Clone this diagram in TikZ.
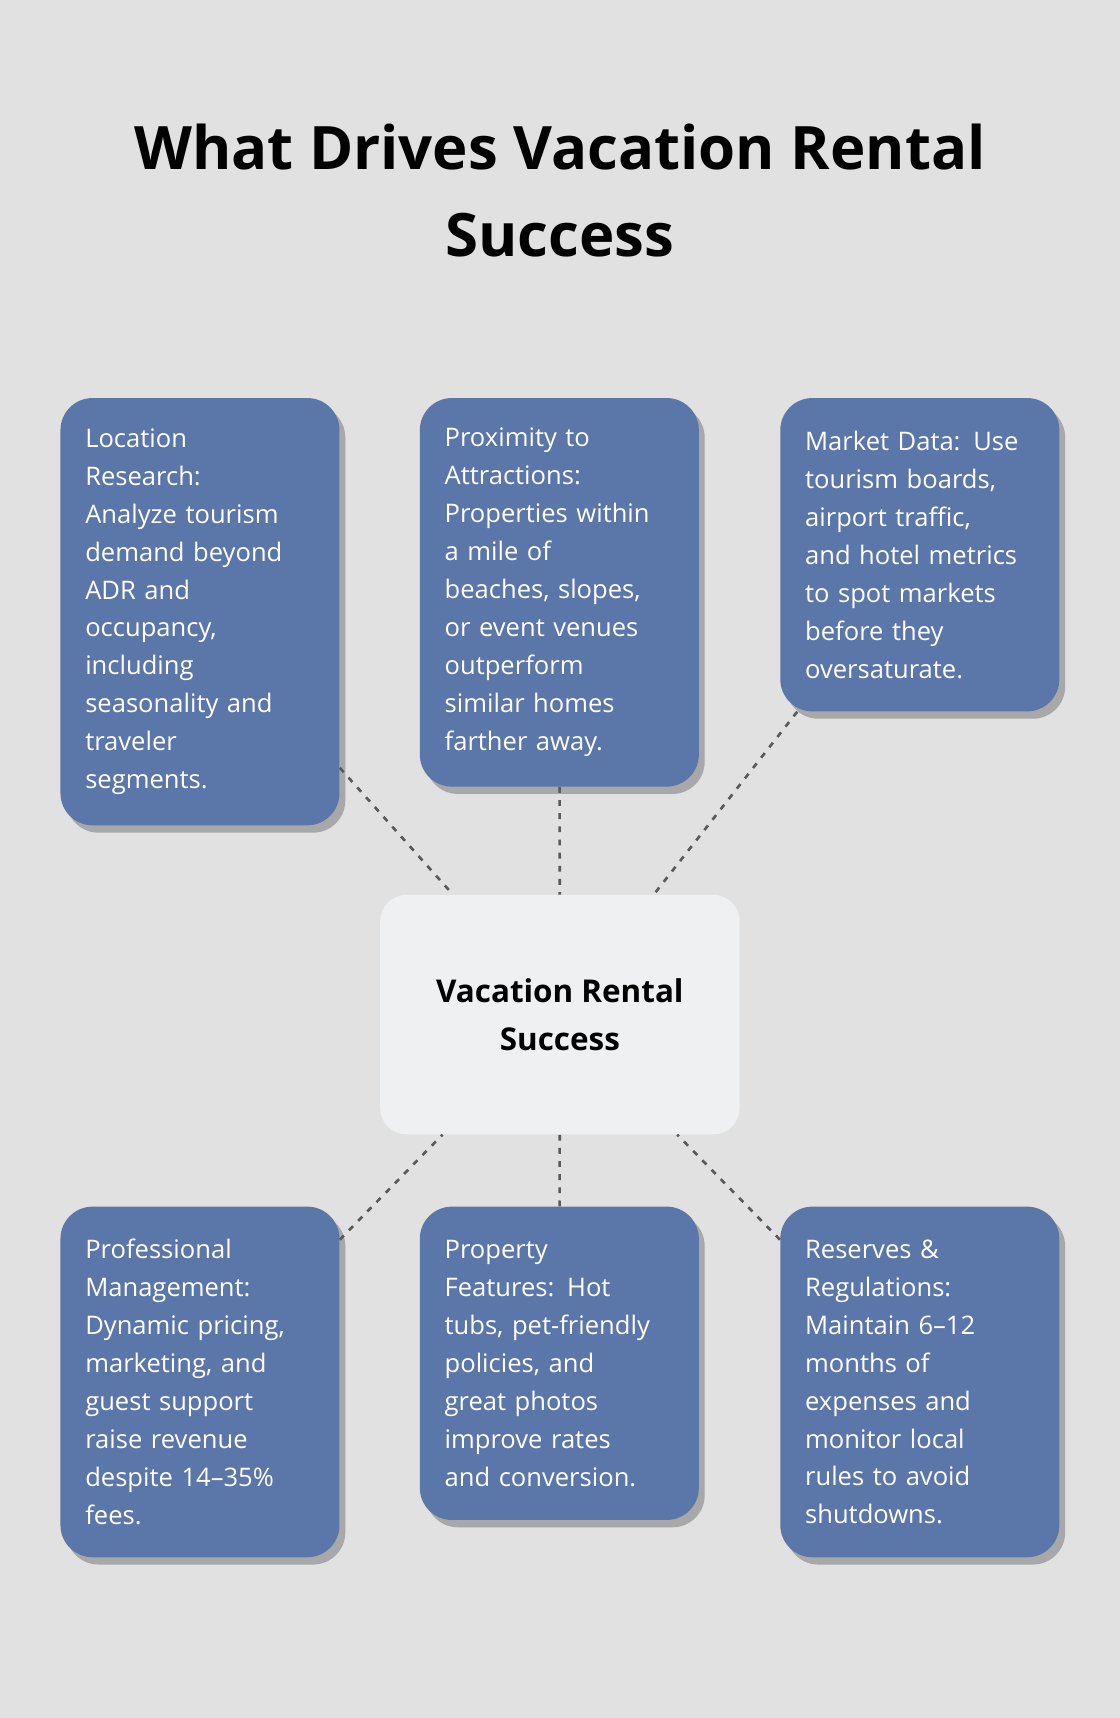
\documentclass[tikz,border=0pt]{standalone}
\usepackage{fontspec}
\setmainfont{Open Sans}
\usetikzlibrary{shadows}
\definecolor{bg}{HTML}{E0E1E0}
\definecolor{boxblue}{HTML}{5B76A8}
\definecolor{cbox}{HTML}{EFF0F2}
\tikzset{
 x=0.75pt,y=-0.75pt,
 card/.style={draw=none,fill=boxblue,rounded corners=22pt,text=white,align=left,
   text width=157pt,inner xsep=16.5pt,inner ysep=14pt,minimum width=191pt,anchor=north,
   font=\fontsize{17.5}{26}\selectfont,
   drop shadow={shadow xshift=4pt,shadow yshift=-5pt,opacity=0.25,fill=black}},
 hub/.style={draw=none,fill=cbox,rounded corners=18pt,align=center,minimum width=246pt,
   minimum height=164pt,font=\fontsize{21.5}{33}\selectfont\bfseries},
 link/.style={draw=black!65,dashed,line width=1.8pt,dash pattern=on 4pt off 5pt}
}
\begin{document}
\begin{tikzpicture}
\fill[bg] (0,0) rectangle (1022,1568);
\useasboundingbox (0,0) rectangle (1022,1568);
\node[font=\fontsize{41}{60}\selectfont\bfseries,align=center] (title) at (511,174) {What Drives Vacation Rental\\Success};
\node[hub] (c) at (511,926) {Vacation Rental\\Success};
\node[card,minimum height=292.5pt] (a) at (182.5,363) {Location\\Research:\\Analyze tourism\\demand beyond\\ADR and\\occupancy,\\including\\seasonality and\\traveler\\segments.};
\node[card,minimum height=266pt] (b) at (510.5,363) {Proximity to\\Attractions:\\Properties within\\a mile of\\beaches, slopes,\\or event venues\\outperform\\similar homes\\farther away.};
\node[card,minimum height=214.5pt] (d) at (839.5,363) {Market Data: Use\\tourism boards,\\airport traffic,\\and hotel metrics\\to spot markets\\before they\\oversaturate.};
\node[card,minimum height=240pt] (e) at (182.5,1101) {Professional\\Management:\\Dynamic pricing,\\marketing, and\\guest support\\raise revenue\\despite 14–35\%\\fees.};
\node[card,minimum height=214.5pt] (f) at (510.5,1101) {Property\\Features: Hot\\tubs, pet-friendly\\policies, and\\great photos\\improve rates\\and conversion.};
\node[card,minimum height=240pt] (g) at (839.5,1101) {Reserves \&\\Regulations:\\Maintain 6–12\\months of\\expenses and\\monitor local\\rules to avoid\\shutdowns.};
\draw[link] (a) -- (c);
\draw[link] (b) -- (c);
\draw[link] (d) -- (c);
\draw[link] (e) -- (c);
\draw[link] (f) -- (c);
\draw[link] (g) -- (c);
\end{tikzpicture}
\end{document}
